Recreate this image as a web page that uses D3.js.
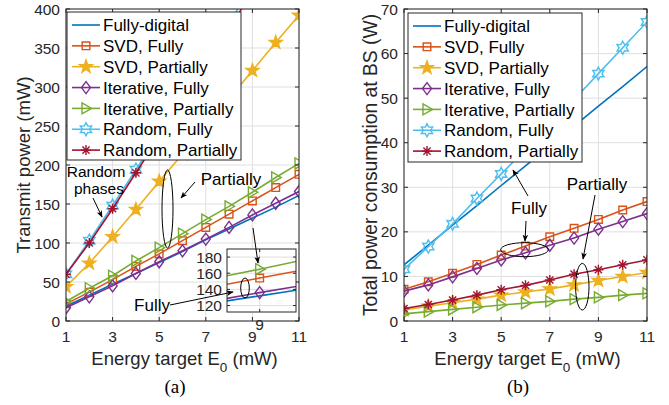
<!DOCTYPE html>
<html><head><meta charset="utf-8">
<script src="https://cdn.jsdelivr.net/npm/d3@7"></script>
<style>
body{margin:0;background:#fff}
svg{display:block;font-family:"Liberation Sans",Arial,Helvetica,sans-serif}
</style>
</head><body>
<svg id="chart" width="669" height="405"></svg>
<script>
// ---------------- data ----------------
const energy = [1,2,3,4,5,6,7,8,9,10,11];
const xTicks = [1,3,5,7,9,11];
const seriesNames = ["Fully-digital","SVD, Fully","SVD, Partially","Iterative, Fully","Iterative, Partially","Random, Fully","Random, Partially"];

// (a) transmit power (mW)
const txFullyDigital   = [19,33,47,61,75,89,104,118,132,146,161];
const txSvdFully       = [22,37,53,70,86,103,120,137,154,171,188];
const txSvdPartially   = [44,74,108,143,179,214,250,285,321,357,392];
const txIterFully      = [17,31,45,61,76,90,105,120,136,151,166];
const txIterPartially  = [25,42,58,77,94,112,130,147,165,184,202];
const txRandFully      = [60,103,148,194,240,287,334,382,430,478,526];
const txRandPartially  = [60,100,144,190,236,282,328,375,422,469,516];
const txYTicks = [0,50,100,150,200,250,300,350,400];
const insetXTicks = [9];
const insetYTicks = [120,140,160,180];

// (b) total power consumption at BS (W)
const bsFullyDigital   = [12.6,17.0,21.5,25.9,30.4,34.8,39.3,43.7,48.2,52.6,57.1];
const bsSvdFully       = [7.1,8.8,10.7,12.7,14.8,16.8,18.9,20.8,22.8,24.9,26.8];
const bsSvdPartially   = [2.5,3.3,4.1,4.9,5.8,6.5,7.2,8.1,9.1,10.0,10.9];
const bsIterFully      = [6.7,8.1,9.9,11.8,13.7,15.3,17.0,18.6,20.6,22.3,24.1];
const bsIterPartially  = [1.6,2.1,2.6,3.1,3.6,4.0,4.4,4.9,5.3,5.8,6.2];
const bsRandFully      = [11.6,16.7,21.8,27.5,33.0,38.5,44.0,49.7,55.5,61.3,67.1];
const bsRandPartially  = [2.8,3.7,4.7,5.8,7.0,8.0,9.2,10.5,11.5,12.6,13.7];
const bsYTicks = [0,10,20,30,40,50,60,70];

// ---------------- styles ----------------
const colors  = ["#0072BD","#D95319","#EDB120","#7E2F8E","#77AC30","#4DBEEE","#A2142F"];
const markers = ["none","square","pentagram","diamond","triangle","hexagram","asterisk"];
const AX = "#262626", GRID = "#dfdfdf";

function starPath(n, R, r){
  const pts = [];
  for (let i=0;i<2*n;i++){
    const a = -Math.PI/2 + i*Math.PI/n, rr = i%2===0 ? R : r;
    pts.push([rr*Math.cos(a), rr*Math.sin(a)]);
  }
  return "M" + pts.map(p=>p[0].toFixed(2)+","+p[1].toFixed(2)).join("L") + "Z";
}
function markerPath(t){
  switch(t){
    case "square": return "M-3.8,-3.8H3.8V3.8H-3.8Z";
    case "diamond": return "M0,-6L4.5,0L0,6L-4.5,0Z";
    case "triangle": return "M-4,-5.5L5.5,0L-4,5.5Z";
    case "pentagram": return starPath(5,6.8,2.7);
    case "hexagram": return starPath(6,6.5,3.6);
    case "asterisk": { const r=5, d=3.6;
      return `M${-r},0H${r}M0,${-r}V${r}M${-d},${-d}L${d},${d}M${-d},${d}L${d},${-d}`; }
  }
  return null;
}
function drawMarker(g, t, c, x, y){
  const p = markerPath(t); if(!p) return;
  g.append("path").attr("d",p).attr("transform",`translate(${x},${y})`)
    .attr("fill", t==="pentagram" ? c : "none").attr("stroke",c).attr("stroke-width",1.4)
    .attr("stroke-linejoin","miter");
}

const svg = d3.select("#chart");
const defs = svg.append("defs");
defs.append("marker").attr("id","arr").attr("viewBox","0 0 10 10").attr("refX",9).attr("refY",5)
  .attr("markerWidth",7).attr("markerHeight",7).attr("orient","auto-start-reverse")
  .attr("markerUnits","userSpaceOnUse")
  .append("path").attr("d","M0,1L10,5L0,9L2.5,5Z").attr("fill","#000");

function panel(cfg){
  const {id,left,right,top,bottom,yDomain,yTicks,series} = cfg;
  const x = d3.scaleLinear().domain([1,11]).range([left,right]);
  const y = d3.scaleLinear().domain(yDomain).range([bottom,top]);
  const g = svg.append("g");
  defs.append("clipPath").attr("id","clip"+id).append("rect")
    .attr("x",left).attr("y",top).attr("width",right-left).attr("height",bottom-top);
  // grid
  g.append("g").selectAll("line").data(xTicks).join("line")
    .attr("x1",d=>x(d)).attr("x2",d=>x(d)).attr("y1",top).attr("y2",bottom)
    .attr("stroke",GRID).attr("stroke-width",1);
  g.append("g").selectAll("line").data(yTicks).join("line")
    .attr("y1",d=>y(d)).attr("y2",d=>y(d)).attr("x1",left).attr("x2",right)
    .attr("stroke",GRID).attr("stroke-width",1);
  // series
  const sg = g.append("g").attr("clip-path",`url(#clip${id})`);
  const line = d3.line().x((d,i)=>x(energy[i])).y(d=>y(d));
  series.forEach((vals,k)=>{
    sg.append("path").attr("d",line(vals)).attr("fill","none")
      .attr("stroke",colors[k]).attr("stroke-width",1.6);
    vals.forEach((v,i)=>{ if(v<=yDomain[1]) drawMarker(sg,markers[k],colors[k],x(energy[i]),y(v)); });
  });
  // ticks (inward on all sides)
  const tl = 4;
  const tg = g.append("g").attr("stroke",AX).attr("stroke-width",1);
  xTicks.forEach(t=>{
    tg.append("line").attr("x1",x(t)).attr("x2",x(t)).attr("y1",bottom).attr("y2",bottom-tl);
    tg.append("line").attr("x1",x(t)).attr("x2",x(t)).attr("y1",top).attr("y2",top+tl);
  });
  yTicks.forEach(t=>{
    tg.append("line").attr("y1",y(t)).attr("y2",y(t)).attr("x1",left).attr("x2",left+tl);
    tg.append("line").attr("y1",y(t)).attr("y2",y(t)).attr("x1",right).attr("x2",right-tl);
  });
  g.append("rect").attr("x",left).attr("y",top).attr("width",right-left).attr("height",bottom-top)
    .attr("fill","none").attr("stroke",AX).attr("stroke-width",1);
  // tick labels
  g.append("g").selectAll("text").data(xTicks).join("text")
    .attr("x",d=>x(d)).attr("y",bottom+20.5).attr("text-anchor","middle")
    .attr("font-size",15.5).attr("fill",AX).text(d=>d);
  g.append("g").selectAll("text").data(yTicks).join("text")
    .attr("x",left-6).attr("y",d=>y(d)).attr("dy","0.36em").attr("text-anchor","end")
    .attr("font-size",15.5).attr("fill",AX).text(d=>d);
  // x label
  const xl = g.append("text").attr("x",(left+right)/2+2).attr("y",365).attr("text-anchor","middle")
    .attr("font-size",18.5).attr("fill",AX);
  xl.append("tspan").text("Energy target E");
  xl.append("tspan").attr("font-size",13.5).attr("dy",7).text("0");
  xl.append("tspan").attr("dy",-7).text(" (mW)");
  // y label
  g.append("text").attr("transform",`translate(${cfg.yLabelX},${(top+bottom)/2}) rotate(-90)`)
    .attr("text-anchor","middle").attr("font-size",cfg.yLabelSize).attr("fill",AX).text(cfg.yLabel);
  // sub-caption
  g.append("text").attr("x",cfg.capX).attr("y",393).attr("text-anchor","middle")
    .attr("font-family","'Liberation Serif','Times New Roman',serif").attr("font-size",19)
    .attr("fill","#000").text(cfg.caption);
  // legend
  const L = cfg.legend;
  const lg = g.append("g");
  lg.append("rect").attr("x",L.x).attr("y",L.y).attr("width",L.w).attr("height",L.h)
    .attr("fill","#fff").attr("stroke",AX).attr("stroke-width",1);
  seriesNames.forEach((n,k)=>{
    const yy = L.y + 13 + k*20.85;
    lg.append("line").attr("x1",L.x+5).attr("x2",L.x+33).attr("y1",yy).attr("y2",yy)
      .attr("stroke",colors[k]).attr("stroke-width",1.6);
    drawMarker(lg,markers[k],colors[k],L.x+19,yy);
    lg.append("text").attr("x",L.x+36).attr("y",yy).attr("dy","0.36em")
      .attr("font-size",17).attr("fill","#000").text(n);
  });
  return {x,y,g};
}

// ---------------- panel (a) ----------------
const A = panel({id:"a",left:66,right:299,top:9,bottom:321,yDomain:[0,400],yTicks:txYTicks,
  series:[txFullyDigital,txSvdFully,txSvdPartially,txIterFully,txIterPartially,txRandFully,txRandPartially],
  yLabel:"Transmit power (mW)",yLabelX:30,yLabelSize:18.5,capX:175,caption:"(a)",
  legend:{x:67,y:12,w:174,h:148}});

// inset
(function(){
  const L=227,R=296,T=249,B=312;
  const ix = d3.scaleLinear().domain([8.55,9.5]).range([L,R]);
  const iy = d3.scaleLinear().domain([112,190]).range([B,T]);
  const g = svg.append("g");
  defs.append("clipPath").attr("id","clipIn").append("rect").attr("x",L).attr("y",T).attr("width",R-L).attr("height",B-T);
  g.append("rect").attr("x",L).attr("y",T).attr("width",R-L).attr("height",B-T).attr("fill","#fff");
  insetYTicks.forEach(t=>g.append("line").attr("x1",L).attr("x2",R).attr("y1",iy(t)).attr("y2",iy(t)).attr("stroke",GRID));
  insetXTicks.forEach(t=>g.append("line").attr("x1",ix(t)).attr("x2",ix(t)).attr("y1",T).attr("y2",B).attr("stroke",GRID));
  const sg = g.append("g").attr("clip-path","url(#clipIn)");
  const line = d3.line().x((d,i)=>ix(energy[i])).y(d=>iy(d));
  const ser = [[0,txFullyDigital],[1,txSvdFully],[3,txIterFully],[4,txIterPartially]];
  ser.forEach(([k,vals])=>{
    sg.append("path").attr("d",line(vals)).attr("fill","none").attr("stroke",colors[k]).attr("stroke-width",1.6);
    vals.forEach((v,i)=>{ const xv=energy[i]; if(xv>=8.55&&xv<=9.5) drawMarker(sg,markers[k],colors[k],ix(xv),iy(v)); });
  });
  insetYTicks.forEach(t=>{
    g.append("line").attr("x1",L).attr("x2",L+3).attr("y1",iy(t)).attr("y2",iy(t)).attr("stroke",AX);
    g.append("line").attr("x1",R).attr("x2",R-3).attr("y1",iy(t)).attr("y2",iy(t)).attr("stroke",AX);
    g.append("text").attr("x",L-5).attr("y",iy(t)).attr("dy","0.36em").attr("text-anchor","end")
      .attr("font-size",15.5).attr("fill",AX).text(t);
  });
  insetXTicks.forEach(t=>{
    g.append("line").attr("x1",ix(t)).attr("x2",ix(t)).attr("y1",B).attr("y2",B-3).attr("stroke",AX);
    g.append("line").attr("x1",ix(t)).attr("x2",ix(t)).attr("y1",T).attr("y2",T+3).attr("stroke",AX);
    g.append("text").attr("x",ix(t)).attr("y",B+18).attr("text-anchor","middle")
      .attr("font-size",15.5).attr("fill",AX).text(t);
  });
  g.append("rect").attr("x",L).attr("y",T).attr("width",R-L).attr("height",B-T).attr("fill","none").attr("stroke",AX);
})();

// ---------------- panel (b) ----------------
const Bp = panel({id:"b",left:404,right:647,top:9,bottom:321,yDomain:[0,70],yTicks:bsYTicks,
  series:[bsFullyDigital,bsSvdFully,bsSvdPartially,bsIterFully,bsIterPartially,bsRandFully,bsRandPartially],
  yLabel:"Total power consumption at BS (W)",yLabelX:377,yLabelSize:19.3,capX:518,caption:"(b)",
  legend:{x:408,y:13,w:174,h:149}});

// ---------------- annotations ----------------
const an = svg.append("g").attr("fill","none").attr("stroke","#000").attr("stroke-width",1);
function arrow(x1,y1,x2,y2){ an.append("line").attr("x1",x1).attr("y1",y1).attr("x2",x2).attr("y2",y2).attr("marker-end","url(#arr)"); }
function ell(cx,cy,rx,ry){ an.append("ellipse").attr("cx",cx).attr("cy",cy).attr("rx",rx).attr("ry",ry); }
function label(x,y,t,s){ svg.append("text").attr("x",x).attr("y",y).attr("text-anchor","middle").attr("font-size",s).attr("fill","#000").text(t); }

// (a)
label(96,177,"Random",15.5); label(99,194,"phases",15.5);
arrow(93,198,102,217);
ell(167.5,209,5.5,39);
label(231,185,"Partially",17);
arrow(195,182,181,198);
label(152,311,"Fully",17);
arrow(170,305,233,292);
ell(245,288,4.3,10);
arrow(253,228,258,263);
// (b)
arrow(528,196,513,170);
label(529,214,"Fully",17);
arrow(526,221,525,241);
ell(524.5,249.7,23.8,7);
label(597,190,"Partially",17);
arrow(595,195,583,259);
ell(582.3,286.7,6.7,23.3);
</script>
</body></html>
